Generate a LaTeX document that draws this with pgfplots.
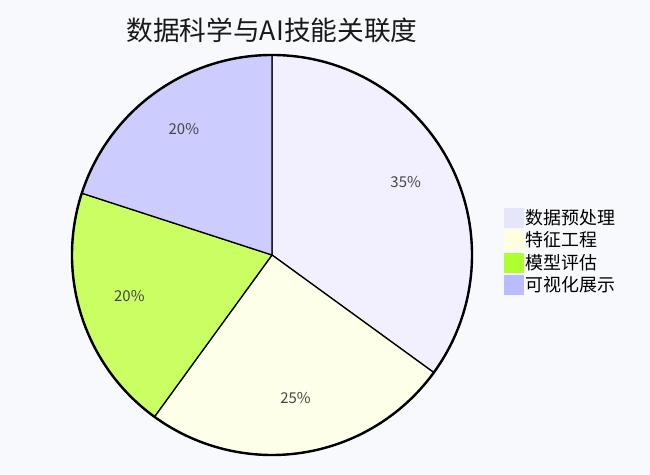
\documentclass[border=0pt]{standalone}
\usepackage{fontspec}
\setmainfont{Noto Sans CJK SC}
\usepackage{pgfplots}
\pgfplotsset{compat=1.18}

\definecolor{bg}{HTML}{F8F9FC}
\definecolor{labelgray}{HTML}{444444}
% slice colours (as they appear in the pie)
\definecolor{s1}{HTML}{F2F0FF}
\definecolor{s2}{HTML}{FEFFE8}
\definecolor{s3}{HTML}{C9FF62}
\definecolor{s4}{HTML}{CCCCFF}
% legend colours
\definecolor{l1}{HTML}{E6E6FA}
\definecolor{l2}{HTML}{FFFFE0}
\definecolor{l3}{HTML}{ADFF2F}
\definecolor{l4}{HTML}{BBBBFF}

\pgfplotsset{
  pie slice/.style 2 args={
    scatter, only marks, mark=*, mark size=0pt,
    visualization depends on={\thisrow{value} \as \val},
    visualization depends on={\thisrow{start} \as \st},
    scatter/@pre marker code/.code={%
      \pgfmathsetmacro\aS{90-3.6*\st}%
      \pgfmathsetmacro\aE{90-3.6*(\st+\val)}%
      \pgfmathsetmacro\aM{(\aS+\aE)/2}%
      \fill[fill=#1, draw=black, line width=1.3bp, line join=round]
        (0pt,0pt) -- (\aS:200bp) arc[start angle=\aS, end angle=\aE, radius=200bp] -- cycle;
      \draw[black, line width=2.4bp]
        (\aS:200bp) arc[start angle=\aS, end angle=\aE, radius=200bp];
      \node[text=labelgray, font=\fontsize{15}{17}\selectfont, yshift=5bp]
        at (\aM:150bp) {\pgfmathprintnumber[fixed,precision=0,assume math mode=true]{\val}\%};
    },
    scatter/@post marker code/.code={},
    legend image code/.code={\fill[#2] (0bp,-9.5bp) rectangle (19bp,9.5bp);},
  },
}

\begin{document}
\begin{tikzpicture}
\begin{axis}[
    x=1bp, y=1bp,
    xmin=-272, xmax=378,
    ymin=-220, ymax=255,
    hide axis, clip=false,
    legend style={
      at={(axis cs:229,50)}, anchor=north west,
      draw=none, fill=none,
      font=\fontsize{18}{20}\selectfont,
      row sep=2bp,
      nodes={inner sep=2bp},
    },
    legend cell align=left,
  ]
  \fill[bg] (rel axis cs:0,0) rectangle (rel axis cs:1,1);

  \addplot[pie slice={s1}{l1}] table {
    x y value start
    0 0 35 0
  };
  \addlegendentry{数据预处理}
  \addplot[pie slice={s2}{l2}] table {
    x y value start
    0 0 25 35
  };
  \addlegendentry{特征工程}
  \addplot[pie slice={s3}{l3}] table {
    x y value start
    0 0 20 60
  };
  \addlegendentry{模型评估}
  \addplot[pie slice={s4}{l4}] table {
    x y value start
    0 0 20 80
  };
  \addlegendentry{可视化展示}

  \node[font=\fontsize{26.8}{30}\selectfont, text=black!90] at (axis cs:0,225)
    {数据科学与AI技能关联度};
\end{axis}
\end{tikzpicture}
\end{document}
